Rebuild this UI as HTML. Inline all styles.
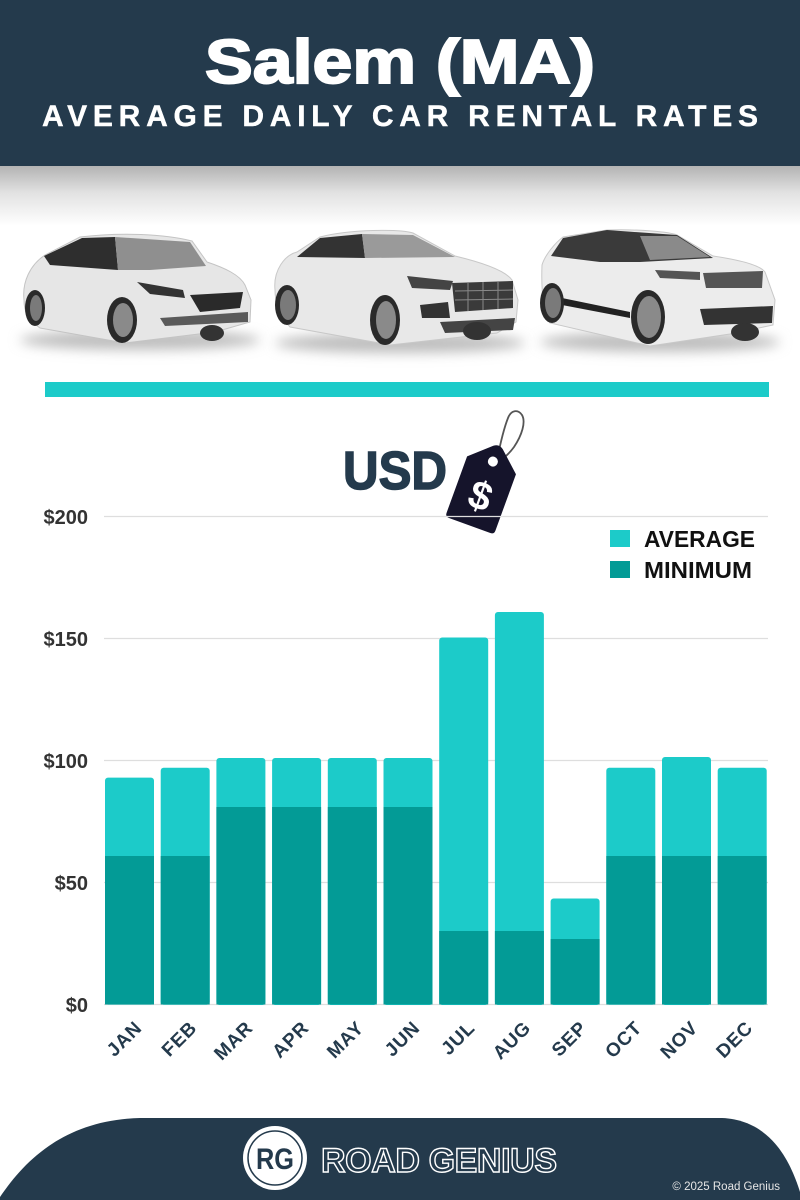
<!DOCTYPE html>
<html>
<head>
<meta charset="utf-8">
<style>
html,body{margin:0;padding:0;background:#fff;}
svg{display:block;}
text{font-family:"Liberation Sans",Arial,sans-serif;}
</style>
</head>
<body>
<svg width="800" height="1200" viewBox="0 0 800 1200" xmlns="http://www.w3.org/2000/svg">
<defs>
<linearGradient id="hshadow" x1="0" y1="0" x2="0" y2="1">
<stop offset="0" stop-color="#b3b3b3"/>
<stop offset="0.45" stop-color="#e2e2e2"/>
<stop offset="1" stop-color="#ffffff"/>
</linearGradient>
<filter id="blur" x="-20%" y="-200%" width="140%" height="500%"><feGaussianBlur stdDeviation="6"/></filter>
</defs>
<rect width="800" height="1200" fill="#fff"/>
<!-- header -->
<rect x="0" y="166" width="800" height="60" fill="url(#hshadow)"/>
<rect x="0" y="0" width="800" height="166" fill="#243a4c"/>
<text x="205" y="83" font-size="62" font-weight="bold" fill="#fff" stroke="#fff" stroke-width="2" textLength="390" lengthAdjust="spacingAndGlyphs">Salem (MA)</text>
<text x="42" y="126" font-size="30" font-weight="bold" fill="#fff" stroke="#fff" stroke-width="0.4" textLength="716" lengthAdjust="spacing">AVERAGE DAILY CAR RENTAL RATES</text>

<!-- car shadows -->
<ellipse cx="140" cy="340" rx="120" ry="10" fill="#bdbdbd" filter="url(#blur)"/>
<ellipse cx="400" cy="343" rx="125" ry="10" fill="#bdbdbd" filter="url(#blur)"/>
<ellipse cx="660" cy="342" rx="120" ry="10" fill="#bdbdbd" filter="url(#blur)"/>

<!-- car 1 -->
<path d="M24,300 C22,282 30,265 45,255 L80,237 C120,232 165,234 192,241 L207,262 C225,268 240,275 245,285 L251,300 L250,322 L215,332 L125,343 L40,328 C28,320 24,312 24,300 Z" fill="#e6e6e6" stroke="#c4c4c4"/>
<path d="M44,256 L82,238 L115,237 L118,270 L50,265 Z" fill="#2e2e2e"/>
<path d="M115,237 L190,242 L206,266 L150,270 L118,270 Z" fill="#8f8f8f"/>
<path d="M137,282 L183,290 L185,298 L150,294 Z" fill="#333"/>
<path d="M190,295 L243,292 L240,308 L200,312 Z" fill="#2a2a2a"/>
<path d="M160,318 L248,312 L248,322 L165,326 Z" fill="#5a5a5a"/>
<ellipse cx="212" cy="333" rx="12" ry="8" fill="#333"/>
<ellipse cx="35" cy="308" rx="10" ry="18" fill="#2a2a2a"/>
<ellipse cx="36" cy="308" rx="6" ry="13" fill="#7a7a7a"/>
<ellipse cx="122" cy="320" rx="15" ry="23" fill="#2a2a2a"/>
<ellipse cx="123" cy="320" rx="10" ry="17" fill="#8a8a8a"/>

<!-- car 2 -->
<path d="M275,290 C273,270 285,255 297,252 L320,237 C350,229 400,229 413,233 L455,256 C480,262 505,270 512,280 L518,300 L516,322 L497,333 L390,345 L290,327 C278,315 275,300 275,290 Z" fill="#e8e8e8" stroke="#c8c8c8"/>
<path d="M297,257 L320,238 L362,234 L365,258 Z" fill="#333"/>
<path d="M362,234 L413,235 L455,257 L365,258 Z" fill="#9a9a9a"/>
<path d="M407,276 L453,281 L450,290 L412,288 Z" fill="#444"/>
<path d="M452,283 L513,281 L513,308 L455,312 Z" fill="#3a3a3a"/>
<path d="M455,291 L513,290 M455,300 L513,299 M468,283 L468,311 M483,282 L483,310 M498,282 L498,309" stroke="#8a8a8a" stroke-width="1"/>
<path d="M420,305 L448,302 L450,318 L422,318 Z" fill="#333"/>
<path d="M440,322 L515,318 L513,330 L445,333 Z" fill="#444"/>
<ellipse cx="477" cy="331" rx="14" ry="9" fill="#333"/>
<ellipse cx="287" cy="305" rx="12" ry="20" fill="#2a2a2a"/>
<ellipse cx="288" cy="305" rx="8" ry="15" fill="#7a7a7a"/>
<ellipse cx="385" cy="320" rx="15" ry="25" fill="#2a2a2a"/>
<ellipse cx="386" cy="320" rx="10" ry="19" fill="#8a8a8a"/>

<!-- car 3 -->
<path d="M542,265 C545,255 555,243 563,237 L607,230 C640,229 670,232 677,235 L713,256 C740,260 760,265 765,272 L775,300 L773,325 L730,334 L650,346 L550,323 C543,310 541,290 542,265 Z" fill="#ececec" stroke="#c8c8c8"/>
<path d="M551,256 L563,238 L607,230 L677,235 L713,258 L640,262 L600,262 Z" fill="#3a3a3a"/>
<path d="M640,236 L677,236 L710,257 L650,260 Z" fill="#8a8a8a"/>
<path d="M703,273 L763,271 L762,288 L706,288 Z" fill="#555"/>
<path d="M655,270 L700,272 L700,280 L660,278 Z" fill="#555"/>
<path d="M700,309 L773,306 L772,323 L704,325 Z" fill="#333"/>
<path d="M562,298 L630,312 L630,318 L562,305 Z" fill="#222"/>
<ellipse cx="745" cy="332" rx="14" ry="9" fill="#333"/>
<ellipse cx="552" cy="303" rx="12" ry="20" fill="#2a2a2a"/>
<ellipse cx="553" cy="303" rx="8" ry="15" fill="#7a7a7a"/>
<ellipse cx="648" cy="317" rx="17" ry="27" fill="#2a2a2a"/>
<ellipse cx="649" cy="317" rx="12" ry="21" fill="#8a8a8a"/>

<!-- teal divider -->
<rect x="45" y="382" width="724" height="15" fill="#1ccbc9"/>

<!-- USD + tag -->
<text x="343" y="489" font-size="54" font-weight="bold" fill="#243a4c" stroke="#243a4c" stroke-width="1.5" textLength="104" lengthAdjust="spacingAndGlyphs">USD</text>
<path d="M497,460 C500,445 504,428 508,418 C511,410 518,409 522,415 C526,422 522,435 514,447 C509,454 504,458 500,461" fill="none" stroke="#555" stroke-width="1.8"/>
<g transform="translate(484,486) rotate(20)">
<path d="M-26,-22 L-5,-41 Q0,-45 5,-41 L26,-22 L26,38 Q26,42 22,42 L-22,42 Q-26,42 -26,38 Z" fill="#15142b"/>
<circle cx="0" cy="-26" r="5" fill="#fff"/>
<text x="0" y="24" font-size="40" font-weight="bold" fill="#fff" text-anchor="middle">$</text>
</g>

<!-- gridlines -->
<g stroke="#dedede" stroke-width="1.2">
<line x1="104" y1="516.5" x2="768" y2="516.5"/>
<line x1="104" y1="638.5" x2="768" y2="638.5"/>
<line x1="104" y1="760.5" x2="768" y2="760.5"/>
<line x1="104" y1="882.5" x2="768" y2="882.5"/>
<line x1="104" y1="1004.5" x2="768" y2="1004.5"/>
</g>
<g font-size="20" font-weight="bold" fill="#333" text-anchor="end">
<text x="88" y="524">$200</text>
<text x="88" y="646">$150</text>
<text x="88" y="768">$100</text>
<text x="88" y="890">$50</text>
<text x="88" y="1012">$0</text>
</g>

<!-- legend -->
<rect x="610" y="530" width="20" height="17" fill="#1ccbc9"/>
<rect x="610" y="561" width="20" height="17" fill="#039b96"/>
<text x="644" y="547" font-size="23" font-weight="bold" fill="#111" textLength="111" lengthAdjust="spacingAndGlyphs">AVERAGE</text>
<text x="644" y="578" font-size="23" font-weight="bold" fill="#111" textLength="108" lengthAdjust="spacingAndGlyphs">MINIMUM</text>

<!-- bars -->
<g fill="#1ccbc9">
<rect x="105" y="777.6" width="49" height="227" rx="3"/>
<rect x="160.7" y="767.8" width="49" height="237" rx="3"/>
<rect x="216.4" y="758" width="49" height="247" rx="3"/>
<rect x="272.1" y="758" width="49" height="247" rx="3"/>
<rect x="327.8" y="758" width="49" height="247" rx="3"/>
<rect x="383.5" y="758" width="49" height="247" rx="3"/>
<rect x="439.2" y="637.5" width="49" height="367.5" rx="3"/>
<rect x="494.9" y="612" width="49" height="393" rx="3"/>
<rect x="550.6" y="898.5" width="49" height="106.5" rx="3"/>
<rect x="606.3" y="767.8" width="49" height="237" rx="3"/>
<rect x="662" y="757" width="49" height="248" rx="3"/>
<rect x="717.7" y="767.8" width="49" height="237" rx="3"/>
</g>
<g fill="#039b96">
<rect x="105" y="856" width="49" height="148.5"/>
<rect x="160.7" y="856" width="49" height="148.5"/>
<rect x="216.4" y="807" width="49" height="197.5"/>
<rect x="272.1" y="807" width="49" height="197.5"/>
<rect x="327.8" y="807" width="49" height="197.5"/>
<rect x="383.5" y="807" width="49" height="197.5"/>
<rect x="439.2" y="931" width="49" height="73.5"/>
<rect x="494.9" y="931" width="49" height="73.5"/>
<rect x="550.6" y="939" width="49" height="65.5"/>
<rect x="606.3" y="856" width="49" height="148.5"/>
<rect x="662" y="856" width="49" height="148.5"/>
<rect x="717.7" y="856" width="49" height="148.5"/>
</g>

<!-- x labels -->
<g font-size="19" font-weight="bold" fill="#243a4c" text-anchor="end" letter-spacing="0.8">
<text transform="translate(143,1029) rotate(-45)">JAN</text>
<text transform="translate(198,1029) rotate(-45)">FEB</text>
<text transform="translate(254,1029) rotate(-45)">MAR</text>
<text transform="translate(310,1029) rotate(-45)">APR</text>
<text transform="translate(365,1029) rotate(-45)">MAY</text>
<text transform="translate(421,1029) rotate(-45)">JUN</text>
<text transform="translate(476,1029) rotate(-45)">JUL</text>
<text transform="translate(532,1029) rotate(-45)">AUG</text>
<text transform="translate(588,1029) rotate(-45)">SEP</text>
<text transform="translate(643,1029) rotate(-45)">OCT</text>
<text transform="translate(699,1029) rotate(-45)">NOV</text>
<text transform="translate(754,1029) rotate(-45)">DEC</text>
</g>

<!-- footer -->
<path d="M0,1200 L0,1197 C25,1160 65,1120 140,1118 L722,1118 C770,1120 790,1160 800,1192 L800,1200 Z" fill="#243a4c"/>
<circle cx="275" cy="1158" r="32" fill="#fff"/>
<circle cx="275" cy="1158" r="27" fill="none" stroke="#243a4c" stroke-width="1.5"/>
<text x="275" y="1169" font-size="30" font-weight="bold" fill="#243a4c" text-anchor="middle" textLength="38" lengthAdjust="spacingAndGlyphs">RG</text>
<text x="321" y="1172" font-size="34" font-weight="bold" fill="none" stroke="#fff" stroke-width="1.4" textLength="236" lengthAdjust="spacing">ROAD GENIUS</text>
<text x="780" y="1190" font-size="11.5" fill="#e6e6e6" text-anchor="end">© 2025 Road Genius</text>
</svg>
</body>
</html>
